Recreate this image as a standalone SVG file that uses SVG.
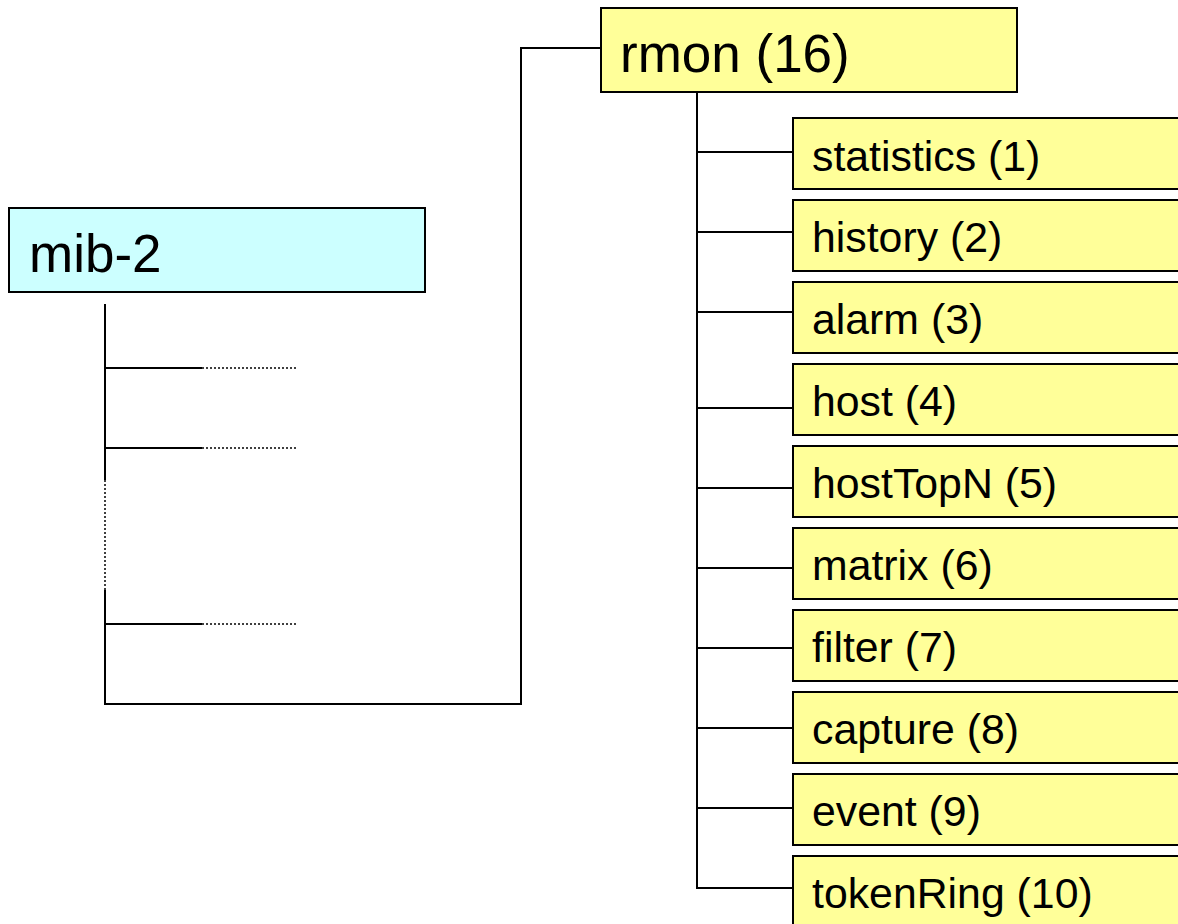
<svg xmlns="http://www.w3.org/2000/svg" width="1178" height="924" viewBox="0 0 1178 924">
  <style>
    .box { stroke: #000; stroke-width: 2; }
    .root { fill: #CCFFFF; }
    .grp { fill: #FFFF99; }
    .big { font-family: "Liberation Sans", Arial, sans-serif; font-size: 53px; fill: #000; }
    .lbl { font-family: "Liberation Sans", Arial, sans-serif; font-size: 42.8px; fill: #000; }
    .wire { fill: none; stroke: #000; stroke-width: 2; }
    .dots { fill: none; stroke: #000; stroke-width: 1.5; stroke-dasharray: 2 2; }
  </style>
  <rect width="1178" height="924" fill="#fff"/>

  <!-- tree connectors -->
  <g id="connectors">
    <!-- mib-2 subtree -->
    <path class="wire" d="M105 304 V480 M105 590 V704 H521 V48 H601"/>
    <path class="dots" d="M105 480 V590"/>
    <path class="wire" d="M105 368 H202 M105 448 H202 M105 624 H202"/>
    <path class="dots" d="M202 368 H297 M202 448 H297 M202 624 H297"/>
    <!-- rmon subtree -->
    <path class="wire" d="M697 88 V888 H793"/>
    <path class="wire" d="M697 152 H793 M697 232 H793 M697 312 H793 M697 408 H793 M697 488 H793 M697 568 H793 M697 648 H793 M697 728 H793 M697 808 H793"/>
  </g>

  <g id="mib-2">
    <rect class="box root" x="9" y="208" width="416" height="84"/>
    <text class="big" x="29" y="272">mib-2</text>
  </g>

  <g id="rmon">
    <rect class="box grp" x="601" y="8" width="416" height="84"/>
    <text class="big" x="620" y="72">rmon (16)</text>
  </g>

  <g id="statistics">
    <rect class="box grp" x="793" y="118" width="400" height="71"/>
    <text class="lbl" x="812" y="171">statistics (1)</text>
  </g>
  <g id="history">
    <rect class="box grp" x="793" y="200" width="400" height="71"/>
    <text class="lbl" x="812" y="252">history (2)</text>
  </g>
  <g id="alarm">
    <rect class="box grp" x="793" y="282" width="400" height="71"/>
    <text class="lbl" x="812" y="334">alarm (3)</text>
  </g>
  <g id="host">
    <rect class="box grp" x="793" y="364" width="400" height="71"/>
    <text class="lbl" x="812" y="416">host (4)</text>
  </g>
  <g id="hostTopN">
    <rect class="box grp" x="793" y="446" width="400" height="71"/>
    <text class="lbl" x="812" y="498">hostTopN (5)</text>
  </g>
  <g id="matrix">
    <rect class="box grp" x="793" y="528" width="400" height="71"/>
    <text class="lbl" x="812" y="580">matrix (6)</text>
  </g>
  <g id="filter">
    <rect class="box grp" x="793" y="610" width="400" height="71"/>
    <text class="lbl" x="812" y="662">filter (7)</text>
  </g>
  <g id="capture">
    <rect class="box grp" x="793" y="692" width="400" height="71"/>
    <text class="lbl" x="812" y="744">capture (8)</text>
  </g>
  <g id="event">
    <rect class="box grp" x="793" y="774" width="400" height="71"/>
    <text class="lbl" x="812" y="826">event (9)</text>
  </g>
  <g id="tokenRing">
    <rect class="box grp" x="793" y="856" width="400" height="80"/>
    <text class="lbl" x="812" y="908">tokenRing (10)</text>
  </g>
</svg>
